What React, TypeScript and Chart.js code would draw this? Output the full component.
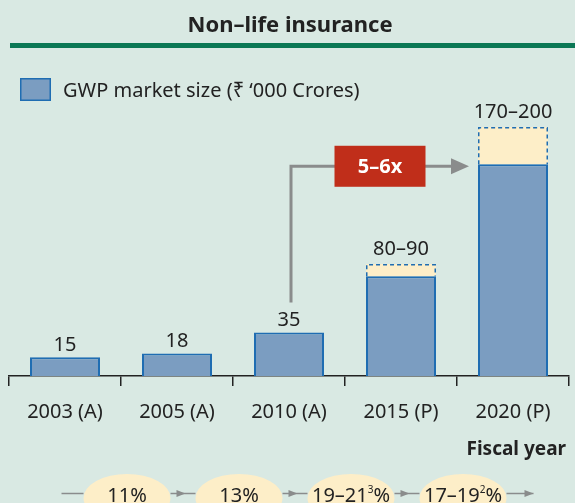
import { useEffect, useRef } from "react";
import { Chart, registerables } from "chart.js";

Chart.register(...registerables);

const titleText = "Non–life insurance";
const legendLabel = "GWP market size (₹ ‘000 Crores)";
const axisTitle = "Fiscal year";
const categories = ["2003 (A)", "2005 (A)", "2010 (A)", "2015 (P)", "2020 (P)"];
const baseValues = [15, 18, 35, 80, 170];
const rangeExtra = [0, 0, 0, 10, 30];
const valueLabels = ["15", "18", "35", "80–90", "170–200"];
const multipleLabel = "5–6x";
const growthMain = ["11", "13", "19–21", "17–19"];
const growthSup = ["", "", "3", "2"];

const FONT = "'Noto Sans', 'DejaVu Sans', sans-serif";
const BG = "#d9e9e3";
const BAR_FILL = "#7b9dc1";
const BAR_BORDER = "#1f6db2";
const RANGE_FILL = "#fdeec8";
const GREEN = "#0b7855";
const RED = "#c02e1a";
const GREY = "#8a8c8c";
const INK = "#222222";

function arrowHead(ctx: CanvasRenderingContext2D, tipX: number, y: number, len: number, half: number) {
  ctx.beginPath();
  ctx.moveTo(tipX, y);
  ctx.lineTo(tipX - len, y - half);
  ctx.lineTo(tipX - len, y + half);
  ctx.closePath();
  ctx.fill();
}

export default function App() {
  const ref = useRef<HTMLCanvasElement>(null);

  useEffect(() => {
    const canvas = ref.current;
    if (!canvas) return;

    const decor = {
      id: "decor",
      beforeDraw(chart: any) {
        const ctx: CanvasRenderingContext2D = chart.ctx;
        ctx.save();
        ctx.fillStyle = BG;
        ctx.fillRect(0, 0, chart.width, chart.height);

        // title
        ctx.fillStyle = INK;
        ctx.font = `bold 22px ${FONT}`;
        ctx.textAlign = "center";
        ctx.textBaseline = "alphabetic";
        ctx.fillText(titleText, 290, 31.5);

        // green rule
        ctx.fillStyle = GREEN;
        ctx.fillRect(10, 43, chart.width - 10, 5);

        // legend
        ctx.fillStyle = BAR_FILL;
        ctx.fillRect(20.75, 78.75, 29.5, 21.5);
        ctx.strokeStyle = BAR_BORDER;
        ctx.lineWidth = 1.5;
        ctx.strokeRect(20.75, 78.75, 29.5, 21.5);
        ctx.fillStyle = INK;
        ctx.font = `20px ${FONT}`;
        ctx.textAlign = "left";
        ctx.fillText(legendLabel, 63, 96.5);

        // axis title
        ctx.font = `bold 19px ${FONT}`;
        ctx.textAlign = "right";
        ctx.fillText(axisTitle, 566, 455);

        // growth row
        const xs = chart.scales.x;
        const cy = 498;
        const lineY = 493.5;
        const rx = 43.5;
        const ry = 24;
        const centers: number[] = [];
        for (let i = 0; i < growthMain.length; i++) {
          const b = (xs.getPixelForValue(i) + xs.getPixelForValue(i + 1)) / 2;
          centers.push(b + 6);
        }
        ctx.strokeStyle = GREY;
        ctx.fillStyle = GREY;
        ctx.lineWidth = 1.5;
        ctx.beginPath();
        ctx.moveTo(centers[0] - rx - 22, lineY);
        ctx.lineTo(centers[0] - rx, lineY);
        ctx.stroke();
        for (let i = 0; i < centers.length; i++) {
          const right = centers[i] + rx;
          const end = i < centers.length - 1 ? centers[i + 1] - rx : right + 27;
          ctx.beginPath();
          ctx.moveTo(right, lineY);
          ctx.lineTo(end, lineY);
          ctx.stroke();
          const tip = i < centers.length - 1 ? right + 15 : end;
          arrowHead(ctx, tip, lineY, 9, 3.5);
        }
        for (let i = 0; i < centers.length; i++) {
          ctx.fillStyle = RANGE_FILL;
          ctx.beginPath();
          ctx.ellipse(centers[i], cy, rx, ry, 0, 0, Math.PI * 2);
          ctx.fill();
          const big = `20px ${FONT}`;
          const small = `10px ${FONT}`;
          ctx.font = big;
          const wMain = ctx.measureText(growthMain[i]).width;
          const wPct = ctx.measureText("%").width;
          ctx.font = small;
          const wSup = growthSup[i] ? ctx.measureText(growthSup[i]).width : 0;
          const total = wMain + wSup + wPct;
          let x = centers[i] - total / 2;
          ctx.fillStyle = INK;
          ctx.textAlign = "left";
          ctx.font = big;
          ctx.fillText(growthMain[i], x, 501.5);
          x += wMain;
          if (growthSup[i]) {
            ctx.font = small;
            ctx.fillText(growthSup[i], x, 493);
            x += wSup;
          }
          ctx.font = big;
          ctx.fillText("%", x, 501.5);
        }
        ctx.restore();
      },
      afterDatasetsDraw(chart: any) {
        const ctx: CanvasRenderingContext2D = chart.ctx;
        const m0 = chart.getDatasetMeta(0).data;
        const m1 = chart.getDatasetMeta(1).data;
        ctx.save();
        for (let i = 0; i < m1.length; i++) {
          if (!rangeExtra[i]) continue;
          const el = m1[i];
          const left = el.x - el.width / 2 + 0.75;
          const right = el.x + el.width / 2 - 0.75;
          const top = el.y + 0.75;
          const bottom = el.base;
          ctx.strokeStyle = BAR_BORDER;
          ctx.lineWidth = 1.5;
          ctx.setLineDash([4, 3]);
          ctx.beginPath();
          ctx.moveTo(left, bottom);
          ctx.lineTo(left, top);
          ctx.lineTo(right, top);
          ctx.lineTo(right, bottom);
          ctx.stroke();
        }
        ctx.setLineDash([]);

        ctx.fillStyle = INK;
        ctx.font = `20px ${FONT}`;
        ctx.textAlign = "center";
        ctx.textBaseline = "alphabetic";
        for (let i = 0; i < m0.length; i++) {
          const top = rangeExtra[i] ? m1[i].y : m0[i].y;
          ctx.fillText(valueLabels[i], m0[i].x, top - (rangeExtra[i] ? 9 : 6.5));
        }

        const x0 = m0[2].x + 2;
        const yStart = m0[2].y - 30;
        const yLine = m0[4].y + 2;
        const tipX = m0[4].x - m0[4].width / 2 - 9;
        ctx.strokeStyle = GREY;
        ctx.fillStyle = GREY;
        ctx.lineWidth = 3;
        ctx.beginPath();
        ctx.moveTo(x0, yStart);
        ctx.lineTo(x0, yLine);
        ctx.lineTo(tipX - 14, yLine);
        ctx.stroke();
        arrowHead(ctx, tipX, yLine, 18, 8);

        const cx = (x0 + tipX) / 2;
        ctx.fillStyle = RED;
        ctx.fillRect(cx - 45.5, yLine - 20.5, 91, 41);
        ctx.fillStyle = "#ffffff";
        ctx.font = `bold 20px ${FONT}`;
        ctx.textBaseline = "middle";
        ctx.fillText(multipleLabel, cx, yLine + 1);
        ctx.restore();
      },
    };

    const chart = new Chart(canvas, {
      type: "bar",
      data: {
        labels: categories,
        datasets: [
          {
            label: legendLabel,
            data: baseValues,
            backgroundColor: BAR_FILL,
            borderColor: BAR_BORDER,
            borderWidth: 2,
            borderSkipped: "bottom",
            barPercentage: 0.625,
            categoryPercentage: 1,
          },
          {
            label: "Range",
            data: rangeExtra,
            backgroundColor: RANGE_FILL,
            borderWidth: 0,
            barPercentage: 0.625,
            categoryPercentage: 1,
          },
        ],
      },
      options: {
        responsive: false,
        animation: false,
        layout: { padding: { left: 9, right: 6, top: 102, bottom: 67 } },
        plugins: {
          legend: { display: false },
          tooltip: { enabled: false },
          title: { display: false },
        },
        scales: {
          x: {
            stacked: true,
            offset: true,
            grid: {
              display: true,
              drawOnChartArea: false,
              drawTicks: true,
              tickLength: 10,
              color: INK,
              lineWidth: 1.5,
              offset: true,
            },
            border: { display: true, color: INK, width: 1.5 },
            ticks: {
              color: INK,
              font: { family: FONT, size: 20 },
              padding: 14,
              maxRotation: 0,
              autoSkip: false,
            },
            afterFit(scale: any) {
              scale.height = 60;
            },
          },
          y: { stacked: true, display: false, min: 0, max: 220 },
        },
      },
      plugins: [decor],
    } as any);

    return () => chart.destroy();
  }, []);

  return (
    <div style={{ position: "fixed", left: 0, top: 0, width: 575, height: 503, overflow: "hidden" }}>
      <canvas ref={ref} width={575} height={503} style={{ display: "block" }} />
    </div>
  );
}
